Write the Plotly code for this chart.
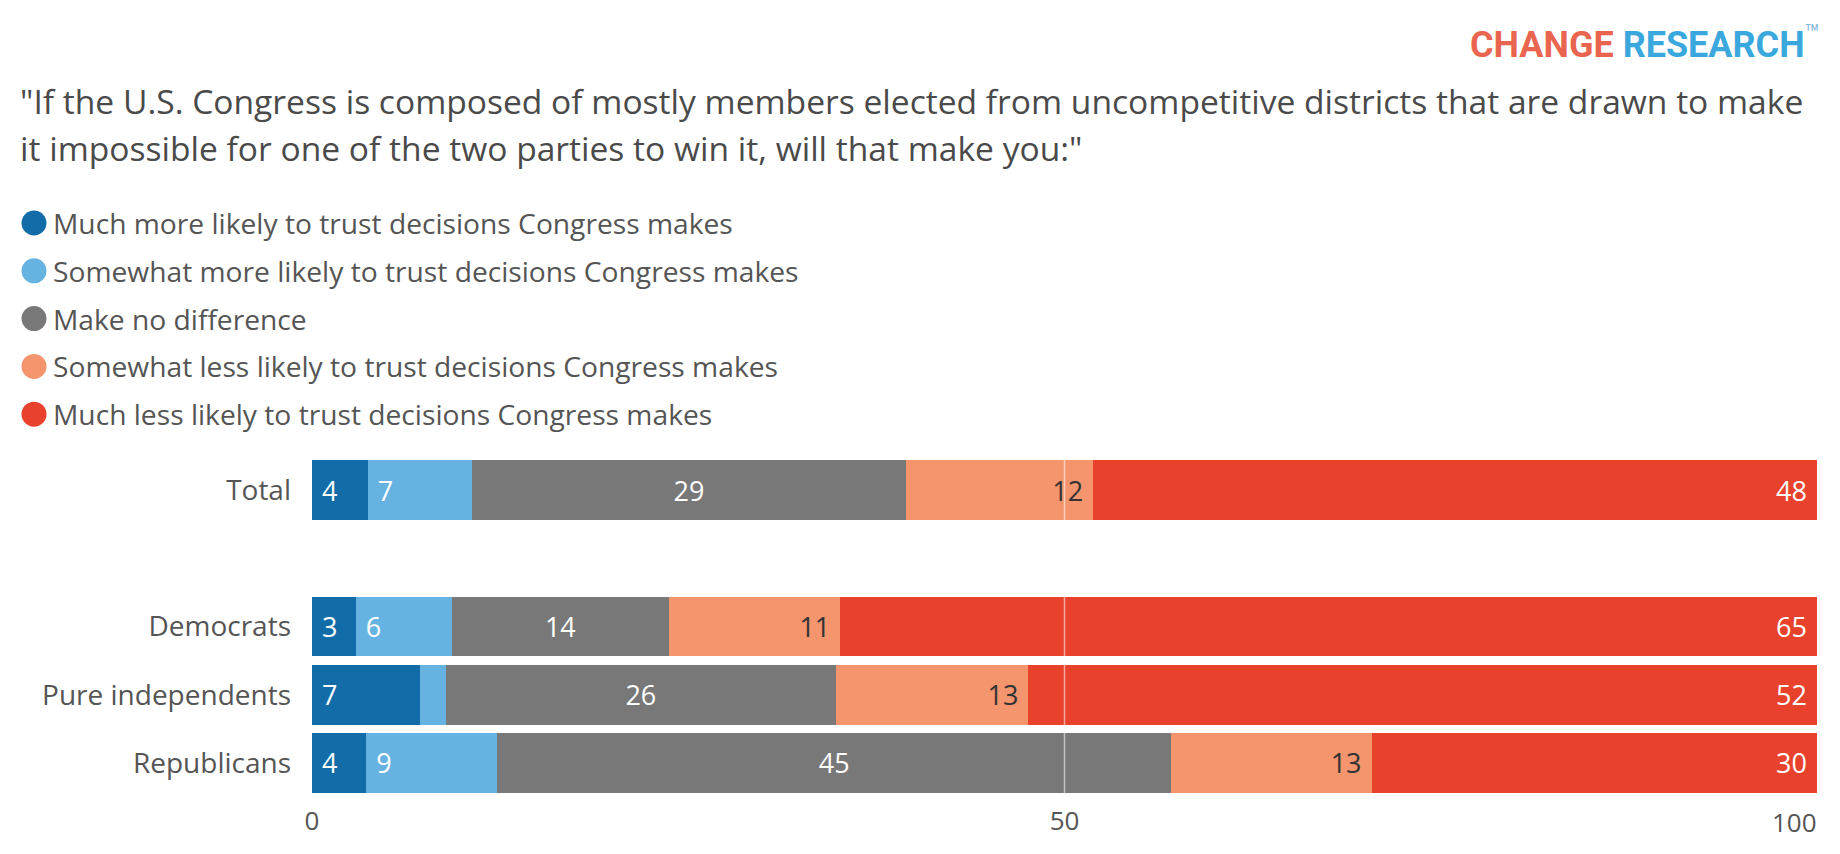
import plotly.graph_objects as go

# data
groups = ['Total', 'Democrats', 'Pure independents', 'Republicans']
group_pos = [0, 2, 3, 4]   # gap row between Total and the party rows
answers = ['Much more likely to trust decisions Congress makes',
           'Somewhat more likely to trust decisions Congress makes',
           'Make no difference',
           'Somewhat less likely to trust decisions Congress makes',
           'Much less likely to trust decisions Congress makes']
much_more = [3.7, 2.9, 7.2, 3.6]
some_more = [6.9, 6.4, 1.7, 8.7]
no_diff = [28.9, 14.4, 25.9, 44.8]
some_less = [12.4, 11.4, 12.8, 13.3]
much_less = [48.1, 64.9, 52.4, 29.6]
series = [much_more, some_more, no_diff, some_less, much_less]
x_ticks = [0, 50, 100]

colors = ['#126ca8', '#66b3e2', '#787878', '#f5956d', '#e8412c']
text_colors = ['white', 'white', 'white', '#333333', 'white']
anchors = ['start', 'start', 'middle', 'end', 'end']

title_lines = ['"If the U.S. Congress is composed of mostly members elected from uncompetitive districts that are drawn to make',
               'it impossible for one of the two parties to win it, will that make you:"']

W, H = 1840, 854
L, R, T, B = 312, 23, 456, 57
FONT = 'Open Sans'
NB = '\u00a0'


def px_x(p):
    return (p - L) / (W - L - R)


def px_y(p):
    return 1 - (p - T) / (H - T - B)


fig = go.Figure()
for vals, name, col, tcol, anc in zip(series, answers, colors, text_colors, anchors):
    labels = []
    for v in vals:
        if v < 2:
            labels.append(None)
        elif anc == 'start':
            labels.append(NB + f'{v:.0f}')
        elif anc == 'end':
            labels.append(f'{v:.0f}' + NB)
        else:
            labels.append(f'{v:.0f}')
    fig.add_trace(go.Bar(
        x=vals, y=group_pos, orientation='h', name=name,
        marker=dict(color=col, line=dict(width=0)),
        width=0.876, text=labels, textposition='inside',
        insidetextanchor=anc, textangle=0,
        textfont=dict(family=FONT, size=27, color=tcol),
        showlegend=False, hoverinfo='skip'))

fig.update_layout(
    barmode='stack', width=W, height=H,
    margin=dict(l=L, r=R, t=T, b=B),
    plot_bgcolor='white', paper_bgcolor='white',
    font=dict(family=FONT, color='#555555'),
    xaxis=dict(range=[0, 100], tickvals=x_ticks[:-1],
               showgrid=False, zeroline=False, showline=False, automargin=False,
               ticks='', ticklabelstandoff=6,
               tickfont=dict(family=FONT, size=26, color='#555555')),
    yaxis=dict(range=[4.5, -0.5], tickvals=group_pos, ticktext=groups,
               showgrid=False, zeroline=False, ticks='', automargin=False,
               ticklabelstandoff=20,
               tickfont=dict(family=FONT, size=28, color='#555555')),
)

# the last tick label sits flush with the right edge of the bars
fig.add_annotation(text=str(x_ticks[-1]), xref='x', yref='paper',
                   x=x_ticks[-1], y=px_y(822), xanchor='right', yanchor='middle',
                   showarrow=False, xshift=2,
                   font=dict(family=FONT, size=26, color='#555555'))

# light gridline at 50 drawn over the bars
fig.add_shape(type='line', xref='x', yref='paper', x0=x_ticks[1], x1=x_ticks[1], y0=0, y1=1,
              layer='above', line=dict(color='rgba(255,255,255,0.55)', width=1.5))

# title
for i, line in enumerate(title_lines):
    fig.add_annotation(text=line, xref='paper', yref='paper',
                       x=px_x(18), y=px_y(101 + 47 * i), xanchor='left', yanchor='middle',
                       showarrow=False, font=dict(family=FONT, size=33.6, color='#4a4a4a'))

# logo
fig.add_annotation(
    text="<b><span style='color:#ea6550'>CHANGE</span> <span style='color:#3ba8dd'>RESEARCH</span></b>"
         "<sup><span style='color:#7fb8d8'>™</span></sup>",
    xref='paper', yref='paper', x=px_x(1822), y=px_y(42), xanchor='right', yanchor='middle',
    showarrow=False, font=dict(family='Roboto', size=36))

# legend with round markers
for i, (name, col) in enumerate(zip(answers, colors)):
    cy = 223 + 47.8 * i
    fig.add_shape(type='circle', xref='paper', yref='paper',
                  xsizemode='pixel', ysizemode='pixel',
                  xanchor=px_x(34), yanchor=px_y(cy),
                  x0=-12.5, x1=12.5, y0=-12.5, y1=12.5,
                  fillcolor=col, line=dict(width=0))
    fig.add_annotation(text=name, xref='paper', yref='paper',
                       x=px_x(51), y=px_y(cy), xanchor='left', yanchor='middle',
                       showarrow=False, font=dict(family=FONT, size=28.2, color='#555555'))

fig.write_html('out.html', config={'displayModeBar': False},
               post_script="document.body.style.margin='0';")
